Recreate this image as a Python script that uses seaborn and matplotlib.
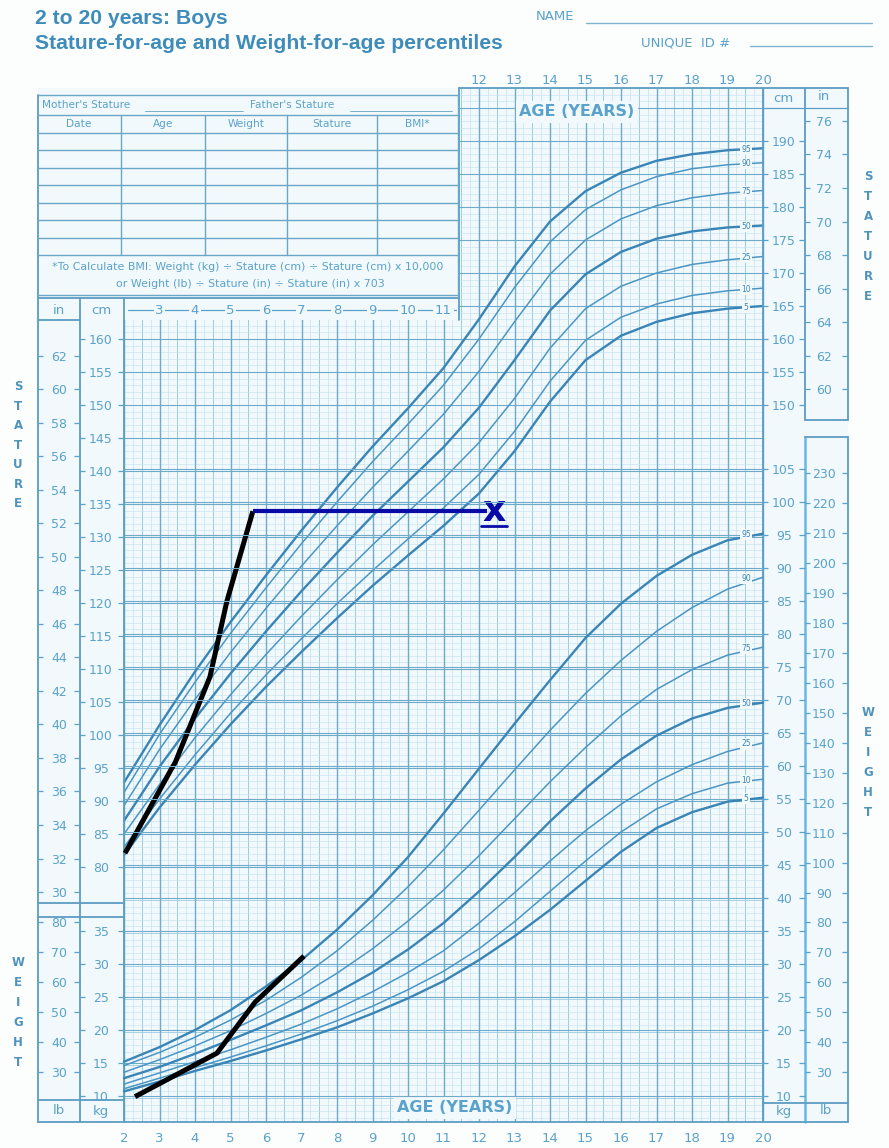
import numpy as np
import pandas as pd
import matplotlib
matplotlib.use("Agg")
import matplotlib.pyplot as plt
from matplotlib.patches import Rectangle
import seaborn as sns

sns.set_theme(style="white")
plt.rcParams["font.family"] = ["DejaVu Sans"]

# ---------------- data ----------------
ages = [2, 3, 4, 5, 6, 7, 8, 9, 10, 11, 12, 13, 14, 15, 16, 17, 18, 19, 20]
percentiles = [5, 10, 25, 50, 75, 90, 95]

stature_p5 = [81.8, 89.0, 95.5, 101.6, 107.3, 112.6, 117.7, 122.6, 127.2, 131.7, 136.6, 143.0, 150.5, 156.8, 160.5, 162.6, 163.9, 164.6, 165.0]
stature_p10 = [83.0, 90.3, 97.0, 103.3, 109.1, 114.6, 119.9, 124.9, 129.7, 134.4, 139.5, 146.0, 153.6, 159.8, 163.3, 165.3, 166.6, 167.3, 167.7]
stature_p25 = [85.0, 92.5, 99.6, 106.1, 112.2, 118.0, 123.5, 128.8, 133.8, 138.8, 144.3, 151.0, 158.6, 164.6, 168.0, 170.0, 171.3, 172.0, 172.5]
stature_p50 = [87.0, 95.2, 102.5, 109.3, 115.7, 121.8, 127.6, 133.2, 138.4, 143.6, 149.6, 156.8, 164.3, 169.8, 173.2, 175.2, 176.3, 176.9, 177.2]
stature_p75 = [89.3, 97.8, 105.4, 112.5, 119.2, 125.6, 131.7, 137.5, 143.0, 148.6, 155.1, 162.6, 169.8, 175.0, 178.2, 180.2, 181.4, 182.1, 182.5]
stature_p90 = [91.3, 100.1, 108.0, 115.4, 122.3, 129.0, 135.3, 141.4, 147.1, 153.0, 160.0, 167.8, 174.7, 179.6, 182.6, 184.6, 185.8, 186.4, 186.7]
stature_p95 = [92.8, 101.5, 109.6, 117.1, 124.2, 131.0, 137.5, 143.7, 149.5, 155.6, 163.0, 171.0, 177.8, 182.4, 185.2, 187.0, 188.0, 188.6, 188.9]

weight_p5 = [10.7, 12.2, 13.8, 15.3, 16.9, 18.6, 20.4, 22.5, 24.8, 27.4, 30.6, 34.2, 38.2, 42.6, 47.0, 50.6, 53.0, 54.6, 55.2]
weight_p10 = [11.1, 12.7, 14.3, 15.9, 17.6, 19.4, 21.4, 23.6, 26.1, 28.9, 32.3, 36.4, 41.0, 45.6, 50.0, 53.5, 55.8, 57.4, 58.0]
weight_p25 = [11.8, 13.5, 15.2, 17.0, 18.9, 20.9, 23.2, 25.8, 28.7, 32.0, 36.2, 40.8, 45.6, 50.2, 54.2, 57.6, 60.2, 62.2, 63.5]
weight_p50 = [12.7, 14.4, 16.4, 18.5, 20.7, 23.0, 25.7, 28.7, 32.2, 36.2, 41.0, 46.2, 51.6, 56.6, 61.0, 64.6, 67.2, 68.8, 69.6]
weight_p75 = [13.6, 15.5, 17.6, 19.9, 22.5, 25.3, 28.6, 32.3, 36.5, 41.2, 46.4, 52.0, 57.6, 62.8, 67.6, 71.6, 74.6, 76.8, 78.0]
weight_p90 = [14.6, 16.6, 18.9, 21.5, 24.5, 28.0, 32.0, 36.6, 41.7, 47.3, 53.3, 59.4, 65.4, 71.0, 76.0, 80.4, 84.0, 86.8, 88.6]
weight_p95 = [15.2, 17.4, 20.0, 23.0, 26.6, 30.6, 35.2, 40.4, 46.2, 52.8, 59.6, 66.4, 73.0, 79.4, 84.6, 88.8, 92.0, 94.2, 95.2]

# hand-drawn measurements on the chart
child_stature_age = [2.03, 3.35, 3.44, 4.42, 4.90, 5.63]
child_stature_cm = [82.1, 95.0, 95.8, 108.8, 120.3, 133.9]
projection_age = [5.63, 12.23]
projection_cm = [133.9, 133.9]
target_age = 12.42
target_cm = 132.4
child_weight_age = [2.31, 4.62, 5.69, 7.07]
child_weight_kg = [9.9, 16.5, 24.2, 31.2]

# scale tick labels
left_cm_ticks = list(range(80, 161, 5))
left_in_ticks = list(range(30, 63, 2))
left_kg_ticks = list(range(10, 36, 5))
left_lb_ticks = list(range(30, 81, 10))
right_cm_ticks = list(range(150, 191, 5))
right_in_ticks = list(range(60, 77, 2))
right_kg_ticks = list(range(10, 106, 5))
right_lb_ticks = list(range(30, 231, 10))
top_age_labels = [12, 13, 14, 15, 16, 17, 18, 19, 20]
row_age_labels = [3, 4, 5, 6, 7, 8, 9, 10, 11]
bottom_age_labels = list(range(2, 21))

stature = dict(zip(percentiles, [stature_p5, stature_p10, stature_p25, stature_p50,
                                 stature_p75, stature_p90, stature_p95]))
weight = dict(zip(percentiles, [weight_p5, weight_p10, weight_p25, weight_p50,
                                weight_p75, weight_p90, weight_p95]))

# ---------------- style ----------------
PAPER = "#f2f9fc"
LABEL = "#5aa2cb"
TITLE = "#3f8cbb"
FRAME = "#5c9dc3"
GRID_DARK = "#6eabca"
GRID_MID = "#9ccbe1"
GRID_LIGHT = "#c6e3ef"
CURVE = "#4c96c4"
CURVE_BOLD = "#3a85b6"

W, H = 889, 1148
L, R, T, B = 38, 848, 88, 1122
AGE2_X, PX_YEAR = 124, 35.5
CM80_Y, PX_CM = 867, 6.6
KG10_Y = 1096


def X(px):
    return 2 + (px - AGE2_X) / PX_YEAR


def S(py):
    return 80 + (CM80_Y - py) / PX_CM


def K(py):
    return 10 + (KG10_Y - py) / PX_CM


def fx(px):
    return px / W


def fy(py):
    return 1 - py / H


fig = plt.figure(figsize=(W / 100, H / 100), dpi=100)
fig.patch.set_facecolor("#fcfefe")
ax = fig.add_axes([fx(L), fy(B), (R - L) / W, (B - T) / H])
ax.set_facecolor(PAPER)
ax.set_xlim(X(L), X(R))
ax.set_ylim(S(B), S(T))
axw = ax.twinx()
axw.set_ylim(K(B), K(T))
for a in (ax, axw):
    a.set_xticks([])
    a.set_yticks([])
    for sp in a.spines.values():
        sp.set_visible(False)

# ---------------- grid ----------------
q = np.arange(2, 20.001, 0.25)
quarters = [v for v in q if abs(v * 2 - round(v * 2)) > 1e-6]
halves = [v for v in q if abs(v - round(v)) > 1e-6 and abs(v * 2 - round(v * 2)) < 1e-6]
years = list(range(2, 21))
ax.vlines(quarters, S(B), S(T), color=GRID_LIGHT, lw=0.5, zorder=1)
ax.vlines(halves, S(B), S(T), color=GRID_MID, lw=0.7, zorder=1)
ax.vlines(years, S(B), S(T), color=GRID_DARK, lw=1.0, zorder=1.2)

fine = [v for v in range(42, 199) if v % 5 != 0]
ax.hlines(fine, 2, 20, color=GRID_LIGHT, lw=0.45, zorder=1)
ax.hlines([v for v in range(45, 199, 5) if v < 80 or v > 195], 2, 20, color=GRID_MID, lw=0.6, zorder=1)
ax.hlines(list(range(80, 196, 5)), 2, 20, color=GRID_DARK, lw=0.8, zorder=1.2)
axw.hlines(list(range(10, 106, 5)), 2, 20, color=GRID_DARK, lw=0.8, zorder=1.2)

# mask for the record table
ax.add_patch(Rectangle((X(L), S(320)), X(459) - X(L), S(T) - S(320),
                       facecolor=PAPER, edgecolor="none", zorder=3))

# ---------------- percentile curves ----------------
for p in percentiles:
    bold = p in (5, 50, 95)
    sns.lineplot(x=ages, y=stature[p], ax=ax, color=CURVE_BOLD if bold else CURVE,
                 lw=1.7 if bold else 1.1, zorder=6)
    sns.lineplot(x=ages, y=weight[p], ax=axw, color=CURVE_BOLD if bold else CURVE,
                 lw=1.7 if bold else 1.1, zorder=6)
    lab_kw = dict(ha="center", va="center_baseline", fontsize=5.5, color=CURVE_BOLD, zorder=7,
                  bbox=dict(boxstyle="square,pad=0.15", fc=PAPER, ec="none"))
    ax.text(X(746), stature[p][-1], str(p), **lab_kw)
    axw.text(X(746), weight[p][-1], str(p), **lab_kw)

ax.set_xlabel("")
ax.set_ylabel("")
axw.set_ylabel("")

# ---------------- frame ----------------
fkw = dict(color=FRAME, lw=1.3, zorder=8, clip_on=False)


def hline(py, px0, px1, a=ax, **kw):
    d = dict(fkw)
    d.update(kw)
    a.plot([X(px0), X(px1)], [S(py), S(py)], **d)


def vline(px, py0, py1, **kw):
    d = dict(fkw)
    d.update(kw)
    ax.plot([X(px), X(px)], [S(py0), S(py1)], **d)


vline(38, 95, B)
vline(80, 298, B)
vline(124, 298, B)
vline(459, T, 320)
vline(763, T, B)
vline(805, T, 420)
vline(848, T, 420)
vline(805, 437, B, color="#6ab7df", lw=1.8)
vline(848, 437, B)
hline(T, 459, R)
hline(B, L, R)
hline(298, L, 459)
hline(320, L, 80)
hline(420, 805, R)
hline(437, 805, R)
hline(108, 763, R, lw=0.9)
hline(903, L, 124)
hline(917, L, 124)
hline(1100, L, 124)
hline(1103, 763, R)

# record table
tkw = dict(color="#6aa6c6", lw=1.0, zorder=8)
hline(95, 38, 458, **tkw)
hline(295, 38, 458, **tkw)
vline(458, 95, 295, **tkw)
hline(115, 38, 458, **tkw)
for yy in [133, 150, 168, 185, 203, 220, 238, 255]:
    hline(yy, 38, 458, **tkw)
for xx in [121, 205, 287, 377]:
    vline(xx, 115, 255, **tkw)
hline(111, 145, 243, color="#7aaecb", lw=0.7, zorder=8)
hline(111, 350, 452, color="#7aaecb", lw=0.7, zorder=8)
txt = dict(color=LABEL, fontsize=7.6, zorder=9, va="center")
ax.text(X(42), S(105), "Mother's Stature", ha="left", **txt)
ax.text(X(250), S(105), "Father's Stature", ha="left", **txt)
for cx, name in zip([79, 163, 246, 332, 417], ["Date", "Age", "Weight", "Stature", "BMI*"]):
    ax.text(X(cx), S(124), name, ha="center", **txt)
ax.text(X(248), S(267), "*To Calculate BMI: Weight (kg) ÷ Stature (cm) ÷ Stature (cm) x 10,000",
        ha="center", color=LABEL, fontsize=7.9, zorder=9, va="center")
ax.text(X(250), S(284), "or Weight (lb) ÷ Stature (in) ÷ Stature (in) x 703",
        ha="center", color=LABEL, fontsize=7.9, zorder=9, va="center")

# ---------------- scale labels ----------------
def col_labels(a, vals, ys, xc, xl, xr, fs=9):
    for v, yv in zip(vals, ys):
        a.text(X(xc), yv, str(v), ha="center", va="center_baseline", fontsize=fs,
               color=LABEL, zorder=9)
    a.hlines(ys, X(xl), X(xl + 5), color=LABEL, lw=0.9, zorder=9)
    a.hlines(ys, X(xr - 6), X(xr), color=LABEL, lw=0.9, zorder=9)


col_labels(ax, left_cm_ticks, left_cm_ticks, 101, 80, 124)
col_labels(ax, left_in_ticks, [v * 2.54 for v in left_in_ticks], 59, 38, 80)
col_labels(axw, left_kg_ticks, left_kg_ticks, 101, 80, 124)
col_labels(axw, left_lb_ticks, [v * 0.4536 for v in left_lb_ticks], 59, 38, 80)
col_labels(ax, right_cm_ticks, right_cm_ticks, 784, 763, 805)
col_labels(ax, right_in_ticks, [v * 2.54 for v in right_in_ticks], 824, 805, 848)
col_labels(axw, right_kg_ticks, right_kg_ticks, 784, 763, 805)
col_labels(axw, right_lb_ticks, [v * 0.4536 for v in right_lb_ticks], 824, 805, 848)

hdr = dict(ha="center", va="center", fontsize=9.5, color=LABEL, zorder=9)
ax.text(X(59), S(310), "in", **hdr)
ax.text(X(101), S(310), "cm", **hdr)
ax.text(X(59), S(1111), "lb", **hdr)
ax.text(X(101), S(1111), "kg", **hdr)
ax.text(X(783), S(99), "cm", **hdr)
ax.text(X(824), S(97), "in", **hdr)
ax.text(X(784), S(1111), "kg", **hdr)
ax.text(X(826), S(1111), "lb", **hdr)

# age labels in the row under the table
ax.plot([X(128), X(456)], [S(310), S(310)], color=LABEL, lw=0.9, zorder=8)
for a_ in row_age_labels:
    ax.text(a_, S(310), str(a_), ha="center", va="center", fontsize=9.5, color=LABEL, zorder=9,
            bbox=dict(boxstyle="square,pad=0.12", fc=PAPER, ec="none"))

for a_ in top_age_labels:
    fig.text(fx(AGE2_X + (a_ - 2) * PX_YEAR), fy(80), str(a_), ha="center", va="center",
             fontsize=9.5, color=LABEL)
for a_ in bottom_age_labels:
    fig.text(fx(AGE2_X + (a_ - 2) * PX_YEAR), fy(1138), str(a_), ha="center", va="center",
             fontsize=9.5, color=LABEL)

age_kw = dict(ha="center", va="center", fontsize=11.5, fontweight="bold", color=LABEL, zorder=9,
              bbox=dict(boxstyle="square,pad=0.2", fc=PAPER, ec="none"))
ax.text(X(577), S(112), "AGE (YEARS)", **age_kw)
ax.text(X(455), S(1108), "AGE (YEARS)", **age_kw)

# vertical words
vk = dict(ha="center", va="center", fontsize=8.5, fontweight="bold", color="#4f93bd")
for i, ch in enumerate("STATURE"):
    fig.text(fx(18), fy(387 + i * 19.4), ch, **vk)
    fig.text(fx(868), fy(177 + i * 20), ch, **vk)
for i, ch in enumerate("WEIGHT"):
    fig.text(fx(18), fy(962 + i * 20), ch, **vk)
    fig.text(fx(868), fy(713 + i * 20), ch, **vk)

# titles and header
fig.text(fx(35), fy(24), "2 to 20 years: Boys", ha="left", va="baseline", fontsize=15.2,
         fontweight="bold", color=TITLE, family=["Liberation Sans", "DejaVu Sans"])
fig.text(fx(35), fy(49), "Stature-for-age and Weight-for-age percentiles", ha="left",
         va="baseline", fontsize=15.2, fontweight="bold", color=TITLE,
         family=["Liberation Sans", "DejaVu Sans"])
fig.text(fx(555), fy(17), "NAME", ha="center", va="center", fontsize=9.5, color=LABEL)
fig.add_artist(plt.Line2D([fx(586), fx(872)], [fy(23), fy(23)], color="#7fb3d0", lw=1.0))
fig.text(fx(686), fy(43), "UNIQUE  ID #", ha="center", va="center", fontsize=9.5, color=LABEL)
fig.add_artist(plt.Line2D([fx(750), fx(872)], [fy(46), fy(46)], color="#7fb3d0", lw=1.0))

# ---------------- hand-drawn marks ----------------
sns.lineplot(x=child_stature_age, y=child_stature_cm, ax=ax, color="black", lw=3.6,
             zorder=10, sort=False, solid_capstyle="butt")
sns.lineplot(x=projection_age, y=projection_cm, ax=ax, color="#0a0aa6", lw=3.0,
             zorder=10, sort=False, solid_capstyle="butt")
ax.text(target_age, target_cm, "x", ha="center", va="baseline", fontsize=26,
        fontweight="bold", color="#0a0aa6", zorder=11)
ax.plot([target_age - 0.36, target_age + 0.36], [S(526), S(526)], color="#0a0aa6", lw=2.0,
        zorder=11)
sns.lineplot(x=child_weight_age, y=child_weight_kg, ax=axw, color="black", lw=3.6,
             zorder=10, sort=False, solid_capstyle="butt")
ax.set_xlabel("")
ax.set_ylabel("")
axw.set_ylabel("")

fig.savefig("out.png", dpi=100, facecolor=fig.get_facecolor())
